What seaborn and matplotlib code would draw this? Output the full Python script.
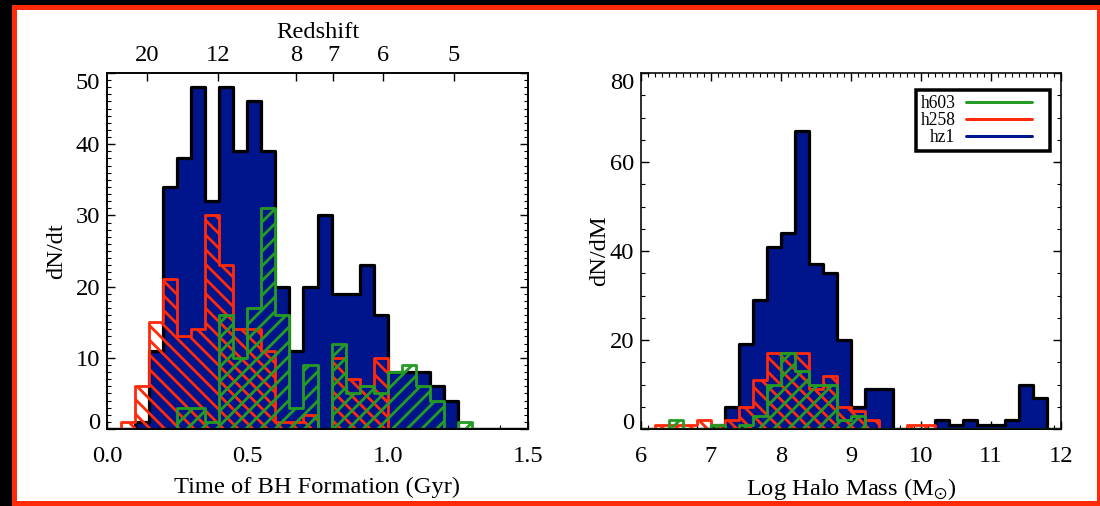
import numpy as np
import pandas as pd
import matplotlib
matplotlib.use("Agg")
import matplotlib.pyplot as plt
import seaborn as sns
from matplotlib.patches import Rectangle
from matplotlib.lines import Line2D
from matplotlib.ticker import MultipleLocator, FixedLocator, NullLocator

# ---------------- data ----------------
# left panel: time of BH formation, bins of 0.05 Gyr starting at 0.0
time_bin_start = np.arange(30) * 0.05
time_bin_width = 0.05
hz1_time  = [0, 0, 1, 11, 34, 38, 48, 32, 48, 39, 46, 39, 20, 11, 20, 30, 19, 19, 23, 16, 8, 8, 8, 6, 4, 0, 0, 0, 0, 0]
h258_time = [0, 1, 6, 15, 21, 13, 14, 30, 23, 14, 14, 11, 1, 1, 2, 0, 10, 7, 6, 10, 0, 0, 0, 0, 0, 0, 0, 0, 0, 0]
h603_time = [0, 0, 0, 0, 0, 3, 3, 1, 16, 10, 17, 31, 16, 3, 9, 0, 12, 5, 6, 5, 8, 9, 6, 4, 0, 1, 0, 0, 0, 0]

# right panel: log halo mass, bins of 0.2 dex starting at 6.0
mass_bin_start = 6.0 + np.arange(30) * 0.2
mass_bin_width = 0.2
hz1_mass  = [0, 0, 0, 0, 0, 1, 5, 19, 29, 41, 44, 67, 37, 35, 20, 5, 9, 9, 0, 0, 0, 2, 1, 2, 1, 1, 2, 10, 7, 0]
h258_mass = [0, 1, 1, 1, 2, 1, 2, 5, 11, 17, 17, 17, 9, 12, 5, 4, 2, 0, 0, 1, 1, 0, 0, 0, 0, 0, 0, 0, 0, 0]
h603_mass = [0, 0, 2, 0, 0, 1, 0, 1, 3, 10, 17, 13, 10, 10, 2, 3, 0, 0, 0, 0, 0, 0, 0, 0, 0, 0, 0, 0, 0, 0]

time_ticks = [0.0, 0.5, 1.0, 1.5]
time_ticklabels = ["0.0", "0.5", "1.0", "1.5"]
mass_ticks = [6, 7, 8, 9, 10, 11, 12]
redshift_labels = ["20", "12", "8", "7", "6", "5"]
redshift_time = [0.141, 0.395, 0.673, 0.807, 0.983, 1.237]   # Gyr where each redshift falls

series_names = ["h603", "h258", "hz1"]

# ---------------- style ----------------
DPI = 88
W, H = 1100.0, 506.0


def P(px):
    """pixels -> points at the output dpi"""
    return px * 72.0 / DPI


NAVY = "#00148c"
RED = "#ff2a0a"
GREEN = "#249c24"
FRAME_RED = "#ff2a0a"

sns.set_style("ticks")
plt.rcParams["font.family"] = ["Liberation Serif", "DejaVu Serif"]
plt.rcParams["mathtext.fontset"] = "stix"
plt.rcParams["hatch.linewidth"] = P(2.8)
plt.rcParams["axes.linewidth"] = P(1.6)
for k in ["xtick.color", "ytick.color", "axes.edgecolor", "axes.labelcolor", "text.color"]:
    plt.rcParams[k] = "black"

FS = P(24.5)

fig = plt.figure(figsize=(W / DPI, H / DPI), dpi=DPI)
fig.patch.set_facecolor("black")
fig.add_artist(Rectangle((12 / W, 0), 1 - 12 / W, (506 - 5) / H, transform=fig.transFigure,
                         facecolor=FRAME_RED, edgecolor="none", zorder=-10))
fig.add_artist(Rectangle((16.5 / W, 5 / H), (1096.5 - 16.5) / W, (501 - 10) / H, transform=fig.transFigure,
                         facecolor="white", edgecolor="none", zorder=-9))

axL = fig.add_axes([107.3 / W, (506 - 429) / H, 420.4 / W, 356 / H])
axR = fig.add_axes([641 / W, (506 - 429) / H, 420 / W, 356 / H])
for a in (axL, axR):
    a.set_facecolor("white")


def draw(ax, starts, width, counts, kind):
    starts = np.asarray(starts, dtype=float)
    edges = [float(e) for e in np.append(starts, starts[-1] + width)]
    df = pd.DataFrame({"x": starts + width / 2, "w": counts})
    if kind == "hz1":
        sns.histplot(data=df, x="x", weights="w", bins=edges, element="step", fill=True,
                     color=NAVY, facecolor=NAVY, edgecolor="black", linewidth=P(3.2),
                     alpha=1, ax=ax, zorder=1)
    elif kind == "h258":
        plt.rcParams["hatch.color"] = RED
        sns.histplot(data=df, x="x", weights="w", bins=edges, element="step", fill=True,
                     color=RED, facecolor="none", edgecolor=RED, hatch="\\\\", linewidth=P(2.8),
                     alpha=1, ax=ax, zorder=2)
    else:
        plt.rcParams["hatch.color"] = GREEN
        sns.histplot(data=df, x="x", weights="w", bins=edges, element="step", fill=True,
                     color=GREEN, facecolor="none", edgecolor=GREEN, hatch="//", linewidth=P(2.8),
                     alpha=1, ax=ax, zorder=3)


draw(axL, time_bin_start, time_bin_width, hz1_time, "hz1")
draw(axL, time_bin_start, time_bin_width, h258_time, "h258")
draw(axL, time_bin_start, time_bin_width, h603_time, "h603")

draw(axR, mass_bin_start, mass_bin_width, hz1_mass, "hz1")
draw(axR, mass_bin_start, mass_bin_width, h258_mass, "h258")
draw(axR, mass_bin_start, mass_bin_width, h603_mass, "h603")

# ---------------- left axes ----------------
axL.set_xlim(0, 1.5)
axL.set_ylim(0, 50)
axL.xaxis.set_major_locator(FixedLocator(time_ticks))
axL.set_xticklabels(time_ticklabels)
axL.xaxis.set_minor_locator(MultipleLocator(0.1))
axL.yaxis.set_major_locator(MultipleLocator(10))
axL.yaxis.set_minor_locator(MultipleLocator(1))
axL.set_xlabel("Time of BH Formation (Gyr)", fontsize=FS, labelpad=P(10))
axL.set_ylabel("dN/dt", fontsize=FS)
axL.yaxis.set_label_coords(-0.096, 0.5)

axT = axL.twiny()
axT.set_xlim(0, 1.5)
axT.xaxis.set_major_locator(FixedLocator(redshift_time))
axT.set_xticklabels(redshift_labels)
axT.xaxis.set_minor_locator(NullLocator())
axT.tick_params(axis="x", direction="in", length=P(8), width=P(1.4), pad=P(7), labelsize=FS)
axT.set_xlabel("Redshift", fontsize=FS, labelpad=P(7))
for s in axT.spines.values():
    s.set_linewidth(P(1.6))

# ---------------- right axes ----------------
axR.set_xlim(6, 12)
axR.set_ylim(0, 80)
axR.xaxis.set_major_locator(FixedLocator(mass_ticks))
axR.xaxis.set_minor_locator(MultipleLocator(0.1))
axR.yaxis.set_major_locator(MultipleLocator(20))
axR.yaxis.set_minor_locator(MultipleLocator(5))
axR.set_xlabel(r"Log Halo Mass (M$_{\odot}$)", fontsize=FS, labelpad=P(9))
axR.set_ylabel("dN/dM", fontsize=FS)
axR.yaxis.set_label_coords(-0.074, 0.5)

for a, top in ((axL, False), (axR, True)):
    a.tick_params(which="both", direction="in", top=top, right=True, bottom=True, left=True)
    a.tick_params(which="major", length=P(8), width=P(1.4), labelsize=FS)
    a.tick_params(which="minor", length=P(4), width=P(1.1))
    a.tick_params(axis="x", pad=P(17))
    a.tick_params(axis="y", pad=P(7))
    for s in a.spines.values():
        s.set_linewidth(P(1.6))
        s.set_zorder(5)

fig.canvas.draw()
for a in (axL, axR):
    ticks = a.yaxis.get_major_ticks()
    locs = a.get_yticks()
    lo, hi = a.get_ylim()
    for t, v in zip(ticks, locs):
        if np.isclose(v, lo):
            t.label1.set_verticalalignment("baseline")
        elif np.isclose(v, hi):
            t.label1.set_verticalalignment("top")

# ---------------- legend ----------------
LFS = P(17.5)
handles = [Line2D([], [], color=GREEN, lw=P(3)),
           Line2D([], [], color=RED, lw=P(3)),
           Line2D([], [], color=NAVY, lw=P(3))]
leg = axR.legend(handles, series_names, loc="upper right", bbox_to_anchor=(0.974, 0.952),
                 borderaxespad=0, markerfirst=False, fontsize=LFS, handlelength=79 / 17.5,
                 handletextpad=11 / 17.5, labelspacing=0.0, borderpad=0.27, fancybox=False,
                 framealpha=1, edgecolor="black")
leg.get_frame().set_linewidth(P(3.5))
leg.set_zorder(10)
# leave a gap between each legend line and the right side of the box, as in the reference
for ln in leg.get_lines():
    xd = np.asarray(ln.get_xdata(), dtype=float)
    if len(xd) >= 2:
        ln.set_xdata(np.linspace(xd[0], xd[-1] - P(13), len(xd)))

fig.savefig("out.png", dpi=DPI, facecolor=fig.get_facecolor())
